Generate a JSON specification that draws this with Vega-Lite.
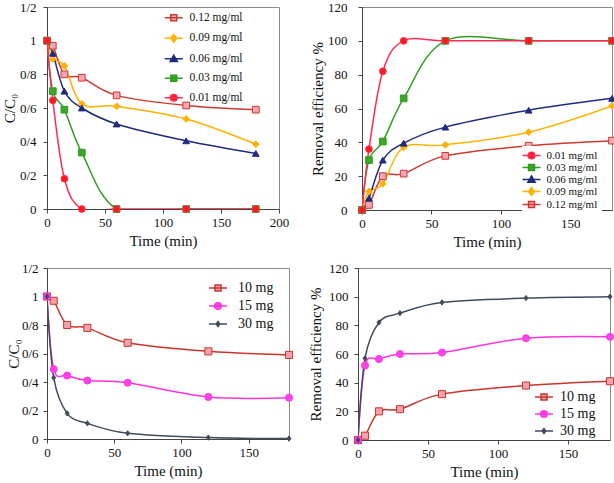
{
  "$schema": "https://vega.github.io/schema/vega-lite/v6.json",
  "background": "white",
  "padding": {"left": 1, "top": 0, "right": 0, "bottom": 0},
  "datasets": {
    "a": [
      {"t":0,"v":1,"s":"0.12 mg/ml"},{"t":5,"v":0.97,"s":"0.12 mg/ml"},{"t":15,"v":0.8,"s":"0.12 mg/ml"},{"t":30,"v":0.78,"s":"0.12 mg/ml"},{"t":60,"v":0.675,"s":"0.12 mg/ml"},{"t":120,"v":0.615,"s":"0.12 mg/ml"},{"t":180,"v":0.59,"s":"0.12 mg/ml"},
      {"t":0,"v":1,"s":"0.09 mg/ml"},{"t":5,"v":0.89,"s":"0.09 mg/ml"},{"t":15,"v":0.85,"s":"0.09 mg/ml"},{"t":30,"v":0.625,"s":"0.09 mg/ml"},{"t":60,"v":0.61,"s":"0.09 mg/ml"},{"t":120,"v":0.535,"s":"0.09 mg/ml"},{"t":180,"v":0.385,"s":"0.09 mg/ml"},
      {"t":0,"v":1,"s":"0.06 mg/ml"},{"t":5,"v":0.925,"s":"0.06 mg/ml"},{"t":15,"v":0.7,"s":"0.06 mg/ml"},{"t":30,"v":0.6,"s":"0.06 mg/ml"},{"t":60,"v":0.505,"s":"0.06 mg/ml"},{"t":120,"v":0.405,"s":"0.06 mg/ml"},{"t":180,"v":0.33,"s":"0.06 mg/ml"},
      {"t":0,"v":1,"s":"0.03 mg/ml"},{"t":5,"v":0.7,"s":"0.03 mg/ml"},{"t":15,"v":0.59,"s":"0.03 mg/ml"},{"t":30,"v":0.335,"s":"0.03 mg/ml"},{"t":60,"v":0,"s":"0.03 mg/ml"},{"t":120,"v":0,"s":"0.03 mg/ml"},{"t":180,"v":0,"s":"0.03 mg/ml"},
      {"t":0,"v":1,"s":"0.01 mg/ml"},{"t":5,"v":0.645,"s":"0.01 mg/ml"},{"t":15,"v":0.18,"s":"0.01 mg/ml"},{"t":30,"v":0,"s":"0.01 mg/ml"},{"t":60,"v":0,"s":"0.01 mg/ml"},{"t":120,"v":0,"s":"0.01 mg/ml"},{"t":180,"v":0,"s":"0.01 mg/ml"}
    ],
    "b": [
      {"t":0,"v":0,"s":"0.12 mg/ml"},{"t":5,"v":3,"s":"0.12 mg/ml"},{"t":15,"v":20,"s":"0.12 mg/ml"},{"t":30,"v":21.5,"s":"0.12 mg/ml"},{"t":60,"v":32,"s":"0.12 mg/ml"},{"t":120,"v":38,"s":"0.12 mg/ml"},{"t":180,"v":41,"s":"0.12 mg/ml"},
      {"t":0,"v":0,"s":"0.09 mg/ml"},{"t":5,"v":11,"s":"0.09 mg/ml"},{"t":15,"v":15.5,"s":"0.09 mg/ml"},{"t":30,"v":37,"s":"0.09 mg/ml"},{"t":60,"v":38.5,"s":"0.09 mg/ml"},{"t":120,"v":46,"s":"0.09 mg/ml"},{"t":180,"v":61.5,"s":"0.09 mg/ml"},
      {"t":0,"v":0,"s":"0.06 mg/ml"},{"t":5,"v":7,"s":"0.06 mg/ml"},{"t":15,"v":29.5,"s":"0.06 mg/ml"},{"t":30,"v":39.5,"s":"0.06 mg/ml"},{"t":60,"v":49,"s":"0.06 mg/ml"},{"t":120,"v":59,"s":"0.06 mg/ml"},{"t":180,"v":66,"s":"0.06 mg/ml"},
      {"t":0,"v":0,"s":"0.03 mg/ml"},{"t":5,"v":29.5,"s":"0.03 mg/ml"},{"t":15,"v":40.5,"s":"0.03 mg/ml"},{"t":30,"v":66,"s":"0.03 mg/ml"},{"t":60,"v":100,"s":"0.03 mg/ml"},{"t":120,"v":100,"s":"0.03 mg/ml"},{"t":180,"v":100,"s":"0.03 mg/ml"},
      {"t":0,"v":0,"s":"0.01 mg/ml"},{"t":5,"v":36,"s":"0.01 mg/ml"},{"t":15,"v":82,"s":"0.01 mg/ml"},{"t":30,"v":100,"s":"0.01 mg/ml"},{"t":60,"v":100,"s":"0.01 mg/ml"},{"t":120,"v":100,"s":"0.01 mg/ml"},{"t":180,"v":100,"s":"0.01 mg/ml"}
    ],
    "c": [
      {"t":0,"v":1,"s":"10 mg"},{"t":5,"v":0.97,"s":"10 mg"},{"t":15,"v":0.8,"s":"10 mg"},{"t":30,"v":0.78,"s":"10 mg"},{"t":60,"v":0.675,"s":"10 mg"},{"t":120,"v":0.615,"s":"10 mg"},{"t":180,"v":0.59,"s":"10 mg"},
      {"t":0,"v":1,"s":"15 mg"},{"t":5,"v":0.49,"s":"15 mg"},{"t":15,"v":0.445,"s":"15 mg"},{"t":30,"v":0.41,"s":"15 mg"},{"t":60,"v":0.395,"s":"15 mg"},{"t":120,"v":0.295,"s":"15 mg"},{"t":180,"v":0.29,"s":"15 mg"},
      {"t":0,"v":1,"s":"30 mg"},{"t":5,"v":0.43,"s":"30 mg"},{"t":15,"v":0.18,"s":"30 mg"},{"t":30,"v":0.11,"s":"30 mg"},{"t":60,"v":0.04,"s":"30 mg"},{"t":120,"v":0.01,"s":"30 mg"},{"t":180,"v":0.003,"s":"30 mg"}
    ],
    "d": [
      {"t":0,"v":0,"s":"10 mg"},{"t":5,"v":3,"s":"10 mg"},{"t":15,"v":20,"s":"10 mg"},{"t":30,"v":21.5,"s":"10 mg"},{"t":60,"v":32,"s":"10 mg"},{"t":120,"v":38,"s":"10 mg"},{"t":180,"v":41,"s":"10 mg"},
      {"t":0,"v":0,"s":"15 mg"},{"t":5,"v":52,"s":"15 mg"},{"t":15,"v":56.5,"s":"15 mg"},{"t":30,"v":60,"s":"15 mg"},{"t":60,"v":61,"s":"15 mg"},{"t":120,"v":71,"s":"15 mg"},{"t":180,"v":72,"s":"15 mg"},
      {"t":0,"v":0,"s":"30 mg"},{"t":5,"v":57,"s":"30 mg"},{"t":15,"v":82,"s":"30 mg"},{"t":30,"v":88.5,"s":"30 mg"},{"t":60,"v":96,"s":"30 mg"},{"t":120,"v":99,"s":"30 mg"},{"t":180,"v":100,"s":"30 mg"}
    ]
  },
  "config": {
    "view": {"stroke": "#8a8a8a", "strokeWidth": 1},
    "axis": {"grid": false, "domainColor": "#444", "tickColor": "#444", "tickSize": 4, "labelFont": "Liberation Serif", "labelFontSize": 13, "labelColor": "#111", "titleFont": "Liberation Serif", "titleFontSize": 15, "titleFontWeight": "normal", "titleColor": "#111", "labelPadding": 3, "labelFlush": false, "labelOverlap": false},
    "legend": {"labelFont": "Liberation Serif", "labelColor": "#111", "symbolSize": 36, "symbolStrokeWidth": 1.5, "symbolOpacity": 1}
  },
  "spacing": 11,
  "resolve": {"scale": {"stroke": "independent", "fill": "independent", "shape": "independent"}, "axis": {}, "legend": {"stroke": "independent", "fill": "independent", "shape": "independent"}},
  "vconcat": [
    {
      "spacing": 19,
      "resolve": {"scale": {"stroke": "independent", "fill": "independent", "shape": "independent"}, "axis": {}, "legend": {"stroke": "independent", "fill": "independent", "shape": "independent"}},
      "hconcat": [
        {
          "width": 232, "height": 202,
          "data": {"name": "a"},
          "resolve": {"scale": {"stroke": "independent", "fill": "independent", "shape": "independent"}},
          "encoding": {
            "x": {"field": "t", "type": "quantitative", "scale": {"domain": [0, 200], "nice": false}, "axis": {"values": [0, 50, 100, 150, 200], "title": "Time (min)"}},
            "y": {"field": "v", "type": "quantitative", "scale": {"domain": [0, 1.2], "nice": false}, "axis": {"values": [0, 0.2, 0.4, 0.6, 0.8, 1, 1.2], "format": ".1~f", "labelExpr": "replace(datum.label, '.', '/')", "title": "C/C₀", "titlePadding": 2, "labelPadding": 7}}
          },
          "layer": [
            {
              "mark": {"type": "line", "interpolate": "cardinal", "strokeWidth": 1.5, "clip": true},
              "encoding": {
                "stroke": {"field": "s", "type": "nominal", "scale": {"domain": ["0.12 mg/ml", "0.09 mg/ml", "0.06 mg/ml", "0.03 mg/ml", "0.01 mg/ml"], "range": ["#CC3A2E", "#FFB000", "#1F2A80", "#2E9E1E", "#FF2A55"]}, "legend": null}
              }
            },
            {
              "mark": {"type": "point", "filled": true, "opacity": 1, "size": 45, "strokeWidth": 1},
              "encoding": {
                "stroke": {"field": "s", "type": "nominal", "scale": {"domain": ["0.12 mg/ml", "0.09 mg/ml", "0.06 mg/ml", "0.03 mg/ml", "0.01 mg/ml"], "range": ["#CC3A2E", "#FFB000", "#1F2A80", "#2E9E1E", "#FF2A55"]}, "legend": null},
                "fill": {"field": "s", "type": "nominal", "scale": {"domain": ["0.12 mg/ml", "0.09 mg/ml", "0.06 mg/ml", "0.03 mg/ml", "0.01 mg/ml"], "range": ["#F4A6B4", "#FFB000", "#1F2A80", "#3DA52A", "#FF1A1A"]}, "legend": null},
                "shape": {"field": "s", "type": "nominal", "scale": {"domain": ["0.12 mg/ml", "0.09 mg/ml", "0.06 mg/ml", "0.03 mg/ml", "0.01 mg/ml"], "range": ["square", "diamond", "triangle-up", "square", "circle"]}, "legend": null}
              }
            },
            {
              "mark": {"type": "point", "filled": true, "opacity": 0},
              "encoding": {
                "stroke": {"field": "s", "type": "nominal", "scale": {"domain": ["0.12 mg/ml", "0.09 mg/ml", "0.06 mg/ml", "0.03 mg/ml", "0.01 mg/ml"], "range": ["#CC3A2E", "#FFB000", "#1F2A80", "#2E9E1E", "#FF2A55"]},
                  "legend": {"title": null, "orient": "none", "legendX": 121, "legendY": 5, "direction": "vertical", "labelFontSize": 11.5, "labelOffset": 10, "rowPadding": 6.5, "padding": 0}},
                "fill": {"field": "s", "type": "nominal", "scale": {"domain": ["0.12 mg/ml", "0.09 mg/ml", "0.06 mg/ml", "0.03 mg/ml", "0.01 mg/ml"], "range": ["#F4A6B4", "#FFB000", "#1F2A80", "#3DA52A", "#FF1A1A"]},
                  "legend": {"title": null, "orient": "none", "legendX": 121, "legendY": 5, "direction": "vertical", "labelFontSize": 11.5, "labelOffset": 10, "rowPadding": 6.5, "padding": 0}},
                "shape": {"field": "s", "type": "nominal", "scale": {"domain": ["0.12 mg/ml", "0.09 mg/ml", "0.06 mg/ml", "0.03 mg/ml", "0.01 mg/ml"], "range": ["M-3,0H3M-1,-1H1V1H-1Z", "M-3,0H3M0,-1.3L1,0L0,1.3L-1,0Z", "M-3,0H3M0,-1.2L1.2,0.9H-1.2Z", "M-3,0H3M-1,-1H1V1H-1Z", "M-3,0H3M-1.1,0A1.1,1.1 0 1,0 1.1,0A1.1,1.1 0 1,0 -1.1,0Z"]},
                  "legend": {"title": null, "orient": "none", "legendX": 121, "legendY": 5, "direction": "vertical", "labelFontSize": 11.5, "labelOffset": 10, "rowPadding": 6.5, "padding": 0}}
              }
            },
            {
              "data": {"values": [{"lab": "a)"}]},
              "mark": {"type": "text", "font": "Liberation Serif", "fontWeight": "bold", "fontSize": 19, "align": "left", "baseline": "middle", "color": "#111"},
              "encoding": {"x": {"datum": 6, "type": "quantitative"}, "y": {"datum": 1.1, "type": "quantitative"}, "text": {"field": "lab"}}
            }
          ]
        },
        {
          "width": 250, "height": 203,
          "data": {"name": "b"},
          "resolve": {"scale": {"stroke": "independent", "fill": "independent", "shape": "independent"}},
          "encoding": {
            "x": {"field": "t", "type": "quantitative", "scale": {"domain": [0, 180], "nice": false}, "axis": {"values": [0, 50, 100, 150], "title": "Time (min)"}},
            "y": {"field": "v", "type": "quantitative", "scale": {"domain": [0, 120], "nice": false}, "axis": {"values": [0, 20, 40, 60, 80, 100, 120], "title": "Removal efficiency %", "titlePadding": 2.5, "labelPadding": 11}}
          },
          "layer": [
            {
              "mark": {"type": "line", "interpolate": "cardinal", "strokeWidth": 1.5, "clip": true},
              "encoding": {
                "stroke": {"field": "s", "type": "nominal", "scale": {"domain": ["0.01 mg/ml", "0.03 mg/ml", "0.06 mg/ml", "0.09 mg/ml", "0.12 mg/ml"], "range": ["#FF2A55", "#2E9E1E", "#1F2A80", "#FFB000", "#CC3A2E"]}, "legend": null}
              }
            },
            {
              "mark": {"type": "point", "filled": true, "opacity": 1, "size": 45, "strokeWidth": 1},
              "encoding": {
                "stroke": {"field": "s", "type": "nominal", "scale": {"domain": ["0.01 mg/ml", "0.03 mg/ml", "0.06 mg/ml", "0.09 mg/ml", "0.12 mg/ml"], "range": ["#FF2A55", "#2E9E1E", "#1F2A80", "#FFB000", "#CC3A2E"]}, "legend": null},
                "fill": {"field": "s", "type": "nominal", "scale": {"domain": ["0.01 mg/ml", "0.03 mg/ml", "0.06 mg/ml", "0.09 mg/ml", "0.12 mg/ml"], "range": ["#FF1A1A", "#3DA52A", "#1F2A80", "#FFB000", "#F4A6B4"]}, "legend": null},
                "shape": {"field": "s", "type": "nominal", "scale": {"domain": ["0.01 mg/ml", "0.03 mg/ml", "0.06 mg/ml", "0.09 mg/ml", "0.12 mg/ml"], "range": ["circle", "square", "triangle-up", "diamond", "square"]}, "legend": null}
              }
            },
            {
              "mark": {"type": "point", "filled": true, "opacity": 0},
              "encoding": {
                "stroke": {"field": "s", "type": "nominal", "scale": {"domain": ["0.01 mg/ml", "0.03 mg/ml", "0.06 mg/ml", "0.09 mg/ml", "0.12 mg/ml"], "range": ["#FF2A55", "#2E9E1E", "#1F2A80", "#FFB000", "#CC3A2E"]},
                  "legend": {"title": null, "orient": "none", "legendX": 160, "legendY": 139, "direction": "vertical", "labelFontSize": 11, "labelOffset": 9.5, "rowPadding": -3, "padding": 4, "fillColor": "white"}},
                "fill": {"field": "s", "type": "nominal", "scale": {"domain": ["0.01 mg/ml", "0.03 mg/ml", "0.06 mg/ml", "0.09 mg/ml", "0.12 mg/ml"], "range": ["#FF1A1A", "#3DA52A", "#1F2A80", "#FFB000", "#F4A6B4"]},
                  "legend": {"title": null, "orient": "none", "legendX": 160, "legendY": 139, "direction": "vertical", "labelFontSize": 11, "labelOffset": 9.5, "rowPadding": -3, "padding": 4, "fillColor": "white"}},
                "shape": {"field": "s", "type": "nominal", "scale": {"domain": ["0.01 mg/ml", "0.03 mg/ml", "0.06 mg/ml", "0.09 mg/ml", "0.12 mg/ml"], "range": ["M-3,0H3M-1.1,0A1.1,1.1 0 1,0 1.1,0A1.1,1.1 0 1,0 -1.1,0Z", "M-3,0H3M-1,-1H1V1H-1Z", "M-3,0H3M0,-1.2L1.2,0.9H-1.2Z", "M-3,0H3M0,-1.3L1,0L0,1.3L-1,0Z", "M-3,0H3M-1,-1H1V1H-1Z"]},
                  "legend": {"title": null, "orient": "none", "legendX": 160, "legendY": 139, "direction": "vertical", "labelFontSize": 11, "labelOffset": 9.5, "rowPadding": -3, "padding": 4, "fillColor": "white"}}
              }
            },
            {
              "data": {"values": [{"lab": "b)"}]},
              "mark": {"type": "text", "font": "Liberation Serif", "fontWeight": "bold", "fontSize": 19, "align": "left", "baseline": "middle", "color": "#111"},
              "encoding": {"x": {"datum": 5, "type": "quantitative"}, "y": {"datum": 109, "type": "quantitative"}, "text": {"field": "lab"}}
            }
          ]
        }
      ]
    },
    {
      "spacing": 10,
      "resolve": {"scale": {"stroke": "independent", "fill": "independent", "shape": "independent"}, "axis": {}, "legend": {"stroke": "independent", "fill": "independent", "shape": "independent"}},
      "hconcat": [
        {
          "width": 242, "height": 171,
          "data": {"name": "c"},
          "resolve": {"scale": {"stroke": "independent", "fill": "independent", "shape": "independent"}},
          "encoding": {
            "x": {"field": "t", "type": "quantitative", "scale": {"domain": [0, 180], "nice": false}, "axis": {"values": [0, 50, 100, 150], "title": "Time (min)"}},
            "y": {"field": "v", "type": "quantitative", "scale": {"domain": [0, 1.2], "nice": false}, "axis": {"values": [0, 0.2, 0.4, 0.6, 0.8, 1, 1.2], "format": ".1~f", "labelExpr": "replace(datum.label, '.', '/')", "title": "C/C₀", "titlePadding": 0, "labelPadding": 5}}
          },
          "layer": [
            {
              "mark": {"type": "line", "interpolate": "cardinal", "strokeWidth": 1.5, "clip": true},
              "encoding": {
                "stroke": {"field": "s", "type": "nominal", "scale": {"domain": ["10 mg", "15 mg", "30 mg"], "range": ["#C8352A", "#FF33DD", "#414B5E"]}, "legend": null}
              }
            },
            {
              "mark": {"type": "point", "filled": true, "opacity": 1, "size": 50, "strokeWidth": 1},
              "encoding": {
                "stroke": {"field": "s", "type": "nominal", "scale": {"domain": ["10 mg", "15 mg", "30 mg"], "range": ["#C8352A", "#FF33DD", "#414B5E"]}, "legend": null},
                "fill": {"field": "s", "type": "nominal", "scale": {"domain": ["10 mg", "15 mg", "30 mg"], "range": ["#F6A0B0", "#FF44EE", "#414B5E"]}, "legend": null},
                "shape": {"field": "s", "type": "nominal", "scale": {"domain": ["10 mg", "15 mg", "30 mg"], "range": ["square", "circle", "M0,-0.75L0.55,0L0,0.75L-0.55,0Z"]}, "legend": null}
              }
            },
            {
              "mark": {"type": "point", "filled": true, "opacity": 0},
              "encoding": {
                "stroke": {"field": "s", "type": "nominal", "scale": {"domain": ["10 mg", "15 mg", "30 mg"], "range": ["#C8352A", "#FF33DD", "#414B5E"]},
                  "legend": {"title": null, "orient": "none", "legendX": 164, "legendY": 13, "direction": "vertical", "labelFontSize": 14, "labelOffset": 13, "rowPadding": 4, "padding": 0}},
                "fill": {"field": "s", "type": "nominal", "scale": {"domain": ["10 mg", "15 mg", "30 mg"], "range": ["#F6A0B0", "#FF44EE", "#414B5E"]},
                  "legend": {"title": null, "orient": "none", "legendX": 164, "legendY": 13, "direction": "vertical", "labelFontSize": 14, "labelOffset": 13, "rowPadding": 4, "padding": 0}},
                "shape": {"field": "s", "type": "nominal", "scale": {"domain": ["10 mg", "15 mg", "30 mg"], "range": ["M-3,0H3M-1,-1H1V1H-1Z", "M-3,0H3M-1.1,0A1.1,1.1 0 1,0 1.1,0A1.1,1.1 0 1,0 -1.1,0Z", "M-3,0H3M0,-0.8L0.6,0L0,0.8L-0.6,0Z"]},
                  "legend": {"title": null, "orient": "none", "legendX": 164, "legendY": 13, "direction": "vertical", "labelFontSize": 14, "labelOffset": 13, "rowPadding": 4, "padding": 0}}
              }
            },
            {
              "data": {"values": [{"lab": "c)"}]},
              "mark": {"type": "text", "font": "Liberation Serif", "fontWeight": "bold", "fontSize": 19, "align": "left", "baseline": "middle", "color": "#111"},
              "encoding": {"x": {"datum": 8, "type": "quantitative"}, "y": {"datum": 1.1, "type": "quantitative"}, "text": {"field": "lab"}}
            }
          ]
        },
        {
          "width": 252, "height": 172,
          "data": {"name": "d"},
          "resolve": {"scale": {"stroke": "independent", "fill": "independent", "shape": "independent"}},
          "encoding": {
            "x": {"field": "t", "type": "quantitative", "scale": {"domain": [0, 180], "nice": false}, "axis": {"values": [0, 50, 100, 150], "title": "Time (min)"}},
            "y": {"field": "v", "type": "quantitative", "scale": {"domain": [0, 120], "nice": false}, "axis": {"values": [0, 20, 40, 60, 80, 100, 120], "title": "Removal efficiency %", "titlePadding": 5, "labelPadding": 6}}
          },
          "layer": [
            {
              "mark": {"type": "line", "interpolate": "cardinal", "strokeWidth": 1.5, "clip": true},
              "encoding": {
                "stroke": {"field": "s", "type": "nominal", "scale": {"domain": ["10 mg", "15 mg", "30 mg"], "range": ["#C8352A", "#FF33DD", "#414B5E"]}, "legend": null}
              }
            },
            {
              "mark": {"type": "point", "filled": true, "opacity": 1, "size": 50, "strokeWidth": 1},
              "encoding": {
                "stroke": {"field": "s", "type": "nominal", "scale": {"domain": ["10 mg", "15 mg", "30 mg"], "range": ["#C8352A", "#FF33DD", "#414B5E"]}, "legend": null},
                "fill": {"field": "s", "type": "nominal", "scale": {"domain": ["10 mg", "15 mg", "30 mg"], "range": ["#F6A0B0", "#FF44EE", "#414B5E"]}, "legend": null},
                "shape": {"field": "s", "type": "nominal", "scale": {"domain": ["10 mg", "15 mg", "30 mg"], "range": ["square", "circle", "M0,-0.75L0.55,0L0,0.75L-0.55,0Z"]}, "legend": null}
              }
            },
            {
              "mark": {"type": "point", "filled": true, "opacity": 0},
              "encoding": {
                "stroke": {"field": "s", "type": "nominal", "scale": {"domain": ["10 mg", "15 mg", "30 mg"], "range": ["#C8352A", "#FF33DD", "#414B5E"]},
                  "legend": {"title": null, "orient": "none", "legendX": 179, "legendY": 122, "direction": "vertical", "labelFontSize": 14, "labelOffset": 9, "rowPadding": 3, "padding": 0}},
                "fill": {"field": "s", "type": "nominal", "scale": {"domain": ["10 mg", "15 mg", "30 mg"], "range": ["#F6A0B0", "#FF44EE", "#414B5E"]},
                  "legend": {"title": null, "orient": "none", "legendX": 179, "legendY": 122, "direction": "vertical", "labelFontSize": 14, "labelOffset": 9, "rowPadding": 3, "padding": 0}},
                "shape": {"field": "s", "type": "nominal", "scale": {"domain": ["10 mg", "15 mg", "30 mg"], "range": ["M-3,0H3M-1,-1H1V1H-1Z", "M-3,0H3M-1.1,0A1.1,1.1 0 1,0 1.1,0A1.1,1.1 0 1,0 -1.1,0Z", "M-3,0H3M0,-0.8L0.6,0L0,0.8L-0.6,0Z"]},
                  "legend": {"title": null, "orient": "none", "legendX": 179, "legendY": 122, "direction": "vertical", "labelFontSize": 14, "labelOffset": 9, "rowPadding": 3, "padding": 0}}
              }
            },
            {
              "data": {"values": [{"lab": "d)"}]},
              "mark": {"type": "text", "font": "Liberation Serif", "fontWeight": "bold", "fontSize": 19, "align": "left", "baseline": "middle", "color": "#111"},
              "encoding": {"x": {"datum": 3.6, "type": "quantitative"}, "y": {"datum": 109.5, "type": "quantitative"}, "text": {"field": "lab"}}
            }
          ]
        }
      ]
    }
  ]
}
